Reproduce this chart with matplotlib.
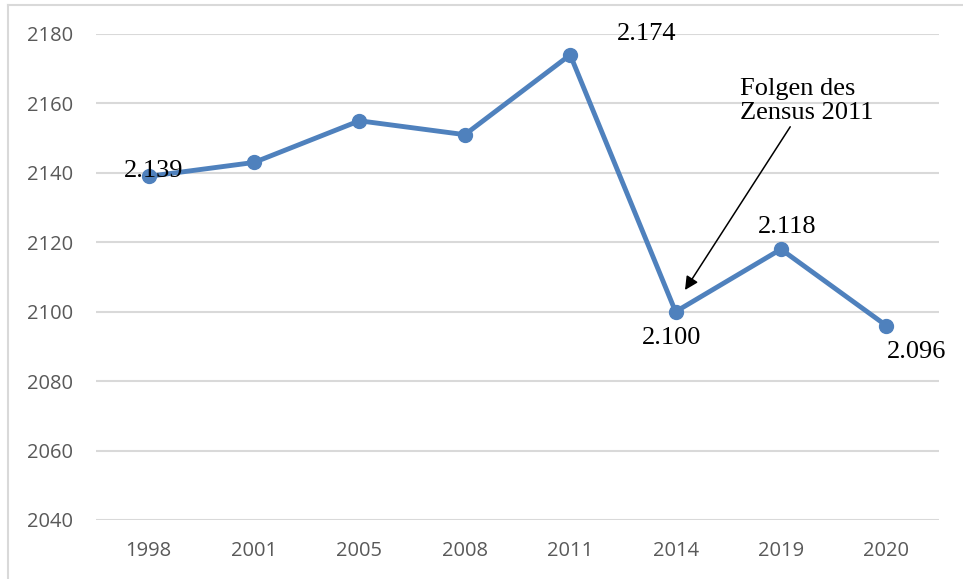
import matplotlib.pyplot as plt
from matplotlib.lines import Line2D

# data
years = ['1998', '2001', '2005', '2008', '2011', '2014', '2019', '2020']
values = [2139, 2143, 2155, 2151, 2174, 2100, 2118, 2096]
# which points carry a label, and the label text
labelled = {0: '2.139', 4: '2.174', 5: '2.100', 6: '2.118', 7: '2.096'}
# label offset in pixels from the point (dx, dy)
offsets = {0: (5, 5), 4: (76, 21), 5: (-4, -26), 6: (6, 22), 7: (30, -26)}

W, H = 963, 579
fig = plt.figure(figsize=(W / 100, H / 100), dpi=100)
ax = fig.add_axes([96 / W, 1 - 520 / H, (939 - 96) / W, (520 - 34) / H])

x = list(range(len(years)))
ax.plot(x, values, color='#4f81bd', lw=3.5, marker='o', ms=10, zorder=3,
        solid_joinstyle='round')

ax.set_xlim(-0.5, len(years) - 0.5)
ax.set_ylim(2040, 2180)
ax.set_yticks(range(2040, 2181, 20))
ax.set_xticks(x)
ax.set_xticklabels(years)
ax.grid(axis='y', color='#d9d9d9', lw=1.5)
ax.set_axisbelow(True)
for s in ax.spines.values():
    s.set_visible(False)
ax.tick_params(length=0, labelsize=14.5, labelcolor='#595959')
ax.tick_params(axis='x', pad=15)
ax.tick_params(axis='y', pad=16.5)
for lab in ax.get_xticklabels() + ax.get_yticklabels():
    lab.set_fontfamily('Open Sans')

for i, txt in labelled.items():
    dx, dy = offsets[i]
    ax.annotate(txt, (x[i], values[i]), xytext=(dx, dy), textcoords='offset pixels',
                ha='center', va='center', fontsize=19, family='Liberation Serif',
                annotation_clip=False, zorder=4)

# arrow note about the census
ax.annotate('Folgen des\nZensus 2011', xy=(685, 289), xycoords='figure pixels',
            xytext=(740, 455), textcoords='figure pixels',
            ha='left', va='bottom', fontsize=19, family='Liberation Serif',
            linespacing=1.1,
            arrowprops=dict(arrowstyle='-|>', color='black', lw=1.1,
                            mutation_scale=20, shrinkA=0, shrinkB=0))

# outer frame of the chart
fig.add_artist(Line2D([8 / W, 8 / W], [0, 1 - 5 / H], color='#d9d9d9', lw=1.5))
fig.add_artist(Line2D([8 / W, 1], [1 - 5 / H, 1 - 5 / H], color='#d9d9d9', lw=1.5))

fig.savefig('out.png', dpi=100)
